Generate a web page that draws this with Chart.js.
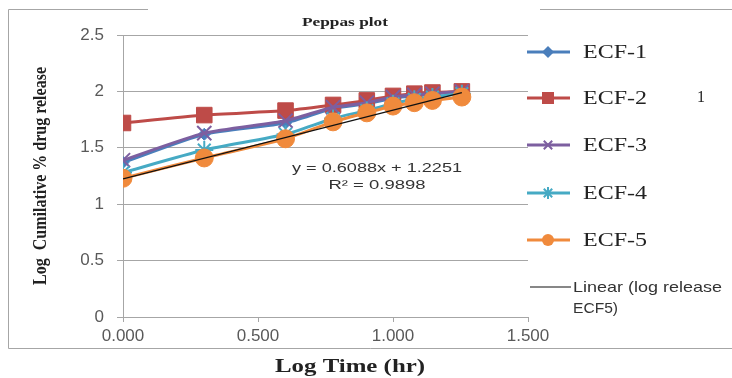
<!DOCTYPE html>
<html>
<head>
<meta charset="utf-8">
<script src="https://cdn.jsdelivr.net/npm/chart.js@4/dist/chart.umd.min.js"></script>
<style>
  html, body { margin: 0; padding: 0; background: #fff; }
  #wrap { width: 732px; height: 378px; position: relative; }
</style>
</head>
<body>
<div id="wrap"><canvas id="chart" width="732" height="378"></canvas></div>
<script>
// log time (hr)
const logTime = [0, 0.301, 0.602, 0.778, 0.903, 1.0, 1.079, 1.146, 1.255];

const seriesNames = ["ECF-1", "ECF-2", "ECF-3", "ECF-4", "ECF-5"];
const ecf1 = [1.37, 1.62, 1.72, 1.85, 1.89, 1.94, 1.96, 1.98, 2.0];
const ecf2 = [1.72, 1.79, 1.83, 1.88, 1.92, 1.96, 1.98, 1.99, 2.0];
const ecf3 = [1.39, 1.63, 1.74, 1.86, 1.90, 1.95, 1.97, 1.98, 2.0];
const ecf4 = [1.28, 1.48, 1.62, 1.76, 1.83, 1.89, 1.93, 1.95, 1.98];
const ecf5 = [1.23, 1.41, 1.58, 1.73, 1.81, 1.87, 1.90, 1.92, 1.95];

// trendline endpoints (y = 0.6088x + 1.2251)
const trendX = [0, 1.255];
const trendY = [1.2251, 1.9891];

const yTicks = [0, 0.5, 1, 1.5, 2, 2.5];
const xTicks = [0, 0.5, 1, 1.5];

const colors = ["#4a7ebb", "#be4b48", "#7d5fa0", "#46aac4", "#f08a3c"];
const shapes = ["rectRot", "rect", "crossRot", "star", "circle"];
const radii = [6, 11, 10, 9, 9];

function toPoints(xs, ys) {
  return xs.map((x, i) => ({ x: x, y: ys[i] }));
}

const seriesValues = [ecf1, ecf2, ecf3, ecf4, ecf5];

const datasets = seriesValues.map((vals, i) => ({
  label: seriesNames[i],
  data: toPoints(logTime, vals),
  borderColor: colors[i],
  backgroundColor: colors[i],
  borderWidth: 3,
  pointStyle: shapes[i],
  pointRadius: radii[i],
  pointBorderWidth: (shapes[i] === "crossRot" || shapes[i] === "star") ? 2 : 1,
  pointBorderColor: colors[i],
  tension: 0.2,
  order: 5 - i,
}));

datasets.push({
  label: "Linear (log release ECF5)",
  data: toPoints(trendX, trendY),
  borderColor: "#111",
  borderWidth: 1.3,
  pointRadius: 0,
  tension: 0,
  order: 0,
});

function drawMarker(ctx, shape, r, x, y, color) {
  ctx.save();
  ctx.fillStyle = color;
  ctx.strokeStyle = color;
  ctx.lineWidth = 2;
  ctx.beginPath();
  if (shape === "circle") {
    ctx.arc(x, y, r, 0, Math.PI * 2);
    ctx.fill();
  } else if (shape === "rect") {
    ctx.fillRect(x - r, y - r, r * 2, r * 2);
  } else if (shape === "rectRot") {
    ctx.moveTo(x, y - r); ctx.lineTo(x + r, y); ctx.lineTo(x, y + r); ctx.lineTo(x - r, y);
    ctx.closePath(); ctx.fill();
  } else if (shape === "crossRot") {
    ctx.moveTo(x - r * 0.7, y - r * 0.7); ctx.lineTo(x + r * 0.7, y + r * 0.7);
    ctx.moveTo(x + r * 0.7, y - r * 0.7); ctx.lineTo(x - r * 0.7, y + r * 0.7);
    ctx.stroke();
  } else if (shape === "star") {
    ctx.moveTo(x - r * 0.7, y - r * 0.7); ctx.lineTo(x + r * 0.7, y + r * 0.7);
    ctx.moveTo(x + r * 0.7, y - r * 0.7); ctx.lineTo(x - r * 0.7, y + r * 0.7);
    ctx.moveTo(x, y - r); ctx.lineTo(x, y + r);
    ctx.stroke();
  }
  ctx.restore();
}

// the source picture is stretched sideways, so text is squeezed/stretched to its width
function fitText(ctx, text, x, y, width) {
  const w = ctx.measureText(text).width;
  ctx.save();
  ctx.translate(x, y);
  ctx.scale(width / w, 1);
  ctx.fillText(text, 0, 0);
  ctx.restore();
}

const decorations = {
  id: "decorations",
  afterDraw(chart) {
    const ctx = chart.ctx;
    ctx.save();

    // frame
    ctx.strokeStyle = "#a6a6a6";
    ctx.lineWidth = 1;
    ctx.beginPath();
    ctx.moveTo(148, 9.5); ctx.lineTo(8.5, 9.5); ctx.lineTo(8.5, 348.5); ctx.lineTo(732, 348.5);
    ctx.moveTo(540, 9.5); ctx.lineTo(732, 9.5);
    ctx.stroke();

    // title
    ctx.fillStyle = "#222";
    ctx.font = "600 12px 'Liberation Serif'";
    ctx.textAlign = "center";
    ctx.textBaseline = "middle";
    fitText(ctx, "Peppas plot", 345, 23, 86);

    // axis titles
    ctx.font = "bold 18px 'Liberation Serif'";
    fitText(ctx, "Log Time (hr)", 350, 367, 150);
    ctx.save();
    ctx.translate(41, 176);
    ctx.rotate(-Math.PI / 2);
    ctx.font = "bold 18px 'Liberation Serif'";
    fitText(ctx, "Log  Cumilative % drug release", 0, 0, 218);
    ctx.restore();

    // trendline equation
    ctx.fillStyle = "#333";
    ctx.font = "13px 'Liberation Sans'";
    fitText(ctx, "y = 0.6088x + 1.2251", 377, 168, 170);
    fitText(ctx, "R\u00b2 = 0.9898", 377, 185, 97);

    // legend
    const legendY = [52, 98, 145, 193, 240];
    seriesNames.forEach((name, i) => {
      const y = legendY[i];
      ctx.strokeStyle = colors[i];
      ctx.lineWidth = 3;
      ctx.beginPath();
      ctx.moveTo(527, y); ctx.lineTo(570, y);
      ctx.stroke();
      drawMarker(ctx, shapes[i], Math.min(radii[i], 6), 548, y, colors[i]);
      ctx.fillStyle = "#222";
      ctx.font = "18px 'Liberation Serif'";
      ctx.textAlign = "left";
      fitText(ctx, name, 583, y + 1, 64);
    });
    ctx.strokeStyle = "#111";
    ctx.lineWidth = 1.2;
    ctx.beginPath();
    ctx.moveTo(530, 287); ctx.lineTo(571, 287);
    ctx.stroke();
    ctx.fillStyle = "#333";
    ctx.font = "15px 'Liberation Sans'";
    fitText(ctx, "Linear (log release", 573, 288, 149);
    fitText(ctx, "ECF5)", 573, 309, 45);

    ctx.font = "16px 'Liberation Serif'";
    ctx.fillStyle = "#222";
    ctx.fillText("1", 697, 98);

    ctx.restore();
  },
};

new Chart(document.getElementById("chart"), {
  type: "line",
  data: { datasets: datasets },
  options: {
    responsive: false,
    animation: false,
    layout: { padding: { left: 0, top: 35, right: 204, bottom: 0 } },
    plugins: { legend: { display: false }, tooltip: { enabled: false } },
    scales: {
      x: {
        type: "linear",
        min: 0,
        max: 1.5,
        afterFit: (scale) => { scale.height = 61; },
        afterBuildTicks: (scale) => { scale.ticks = xTicks.map((v) => ({ value: v })); },
        ticks: {
          callback: (v) => Number(v).toFixed(3),
          color: "#595959",
          font: { family: "'Liberation Sans'", size: 17 },
          padding: 4,
          maxRotation: 0,
        },
        grid: { drawOnChartArea: false, drawTicks: true, tickLength: 5, color: "#a6a6a6" },
        border: { color: "#a6a6a6" },
      },
      y: {
        min: 0,
        max: 2.5,
        afterFit: (scale) => { scale.width = 123; },
        afterBuildTicks: (scale) => { scale.ticks = yTicks.map((v) => ({ value: v })); },
        ticks: {
          callback: (v) => String(v),
          color: "#595959",
          font: { family: "'Liberation Sans'", size: 17 },
          padding: 13,
        },
        grid: { color: "#a6a6a6", tickLength: 6 },
        border: { color: "#a6a6a6" },
      },
    },
  },
  plugins: [decorations],
});
</script>
</body>
</html>
